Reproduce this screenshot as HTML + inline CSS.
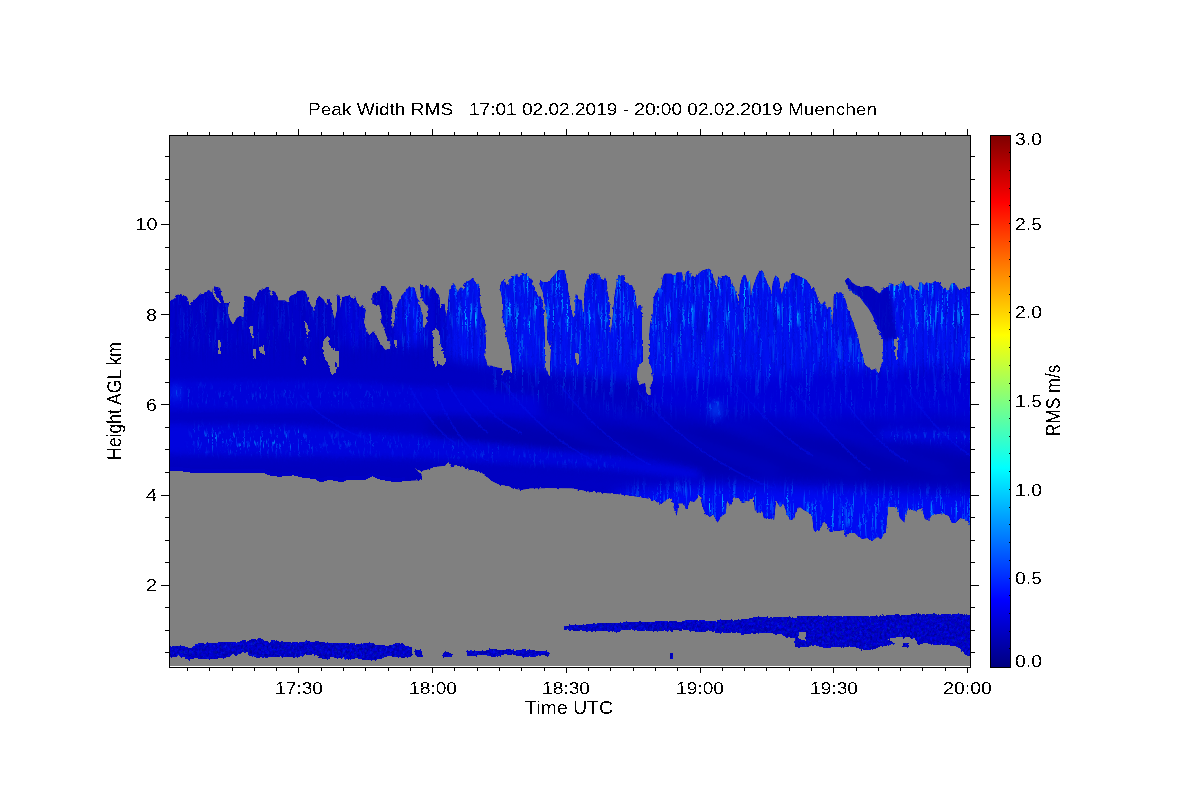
<!DOCTYPE html>
<html lang="en"><head><meta charset="utf-8"><title>Peak Width RMS</title>
<style>html,body{margin:0;padding:0;background:#fff;}body{width:1200px;height:800px;overflow:hidden;}svg{display:block;}text{font-family:"Liberation Sans",sans-serif;fill:#000;white-space:pre;}</style>
</head><body>
<svg width="1200" height="800" viewBox="0 0 1200 800">
<defs>
<linearGradient id="jet" x1="0" y1="1" x2="0" y2="0">
<stop offset="0.00000" stop-color="rgb(0,0,128)"/>
<stop offset="0.03125" stop-color="rgb(0,0,159)"/>
<stop offset="0.06250" stop-color="rgb(0,0,191)"/>
<stop offset="0.09375" stop-color="rgb(0,0,223)"/>
<stop offset="0.12500" stop-color="rgb(0,0,255)"/>
<stop offset="0.15625" stop-color="rgb(0,32,255)"/>
<stop offset="0.18750" stop-color="rgb(0,64,255)"/>
<stop offset="0.21875" stop-color="rgb(0,96,255)"/>
<stop offset="0.25000" stop-color="rgb(0,128,255)"/>
<stop offset="0.28125" stop-color="rgb(0,159,255)"/>
<stop offset="0.31250" stop-color="rgb(0,191,255)"/>
<stop offset="0.34375" stop-color="rgb(0,223,255)"/>
<stop offset="0.37500" stop-color="rgb(0,255,255)"/>
<stop offset="0.40625" stop-color="rgb(32,255,223)"/>
<stop offset="0.43750" stop-color="rgb(64,255,191)"/>
<stop offset="0.46875" stop-color="rgb(96,255,159)"/>
<stop offset="0.50000" stop-color="rgb(128,255,128)"/>
<stop offset="0.53125" stop-color="rgb(159,255,96)"/>
<stop offset="0.56250" stop-color="rgb(191,255,64)"/>
<stop offset="0.59375" stop-color="rgb(223,255,32)"/>
<stop offset="0.62500" stop-color="rgb(255,255,0)"/>
<stop offset="0.65625" stop-color="rgb(255,223,0)"/>
<stop offset="0.68750" stop-color="rgb(255,191,0)"/>
<stop offset="0.71875" stop-color="rgb(255,159,0)"/>
<stop offset="0.75000" stop-color="rgb(255,128,0)"/>
<stop offset="0.78125" stop-color="rgb(255,96,0)"/>
<stop offset="0.81250" stop-color="rgb(255,64,0)"/>
<stop offset="0.84375" stop-color="rgb(255,32,0)"/>
<stop offset="0.87500" stop-color="rgb(255,0,0)"/>
<stop offset="0.90625" stop-color="rgb(223,0,0)"/>
<stop offset="0.93750" stop-color="rgb(191,0,0)"/>
<stop offset="0.96875" stop-color="rgb(159,0,0)"/>
<stop offset="1.00000" stop-color="rgb(128,0,0)"/>
</linearGradient>
<filter id="alias" x="0" y="0" width="1200" height="800" filterUnits="userSpaceOnUse" color-interpolation-filters="sRGB"><feComponentTransfer><feFuncA type="discrete" tableValues="0 0 1 1"/></feComponentTransfer></filter>
<filter id="jag" x="165" y="240" width="810" height="430" filterUnits="userSpaceOnUse" color-interpolation-filters="sRGB"><feTurbulence type="fractalNoise" baseFrequency="0.45 0.3" numOctaves="1" seed="2" result="t"/><feDisplacementMap in="SourceGraphic" in2="t" scale="3.2" xChannelSelector="R" yChannelSelector="G"/></filter>
<filter id="stripeTex" x="160" y="600" width="820" height="70" filterUnits="userSpaceOnUse" color-interpolation-filters="sRGB"><feTurbulence type="fractalNoise" baseFrequency="0.4 0.35" numOctaves="2" seed="9" result="n"/><feColorMatrix in="n" type="matrix" values="0 0 0 0 0  0.4 0 0 0 -0.22  0 0.55 0 0 0.49  0 0 0 0 1" result="c"/><feComposite in="c" in2="SourceGraphic" operator="in"/></filter>
<clipPath id="plotclip"><rect x="170" y="136" width="800" height="530"/></clipPath>
<clipPath id="cloudclip"><polygon points="163,301.2 170,301.2 174.4,298.8 176.2,295 181.2,294.4 186.9,296.9 189.4,304.4 191.9,301.9 196.2,298.8 198.8,295.6 205,292.5 208.8,290 212.5,293.8 213.1,286.2 220,288.1 222.5,301.2 226.2,303.1 228.8,303.1 227.5,312.5 230,320 233.1,325 236.9,318.1 240,316.2 243.8,317.5 244.4,296.2 250,296.9 255,301.2 256.9,294.4 258.8,290.6 265,288.8 268.1,286.9 269.4,291.2 271.2,296.9 273.1,291.2 275,291.9 277.5,296.9 278.1,300.6 285,300.6 288.1,303.1 290,296.2 296.2,293.8 297.5,291.2 302.5,290.6 305,291.2 306.9,295 310,303.8 314.4,311.9 316.9,298.1 319.4,296.2 323.8,300 326.2,306.2 327.5,299.4 330.6,300 331.9,311.2 335,320 336.9,311.2 337.5,295.6 339.4,295.6 340.6,307.5 342.5,297.5 348.1,295.6 353.1,298.8 355,296.2 356.9,302.5 360,307.5 362.5,305 365.6,310 363.8,322.5 367.5,332.5 370,336.2 373.1,331.2 376.2,336.2 380,342.5 385,350 390,348.8 390.6,345.6 386.2,335 383.1,325 381.2,322.5 381.9,316.2 379.4,305 375,304.4 372.5,303.8 372.5,295 375,292.5 380,291.2 381.2,286.2 385,286.2 388.1,290.6 391.2,295 392.5,306.2 391.2,315 392.5,328.8 394.4,325 395.6,307.5 401.2,296.2 405,291.9 407.5,287.5 414.4,287.5 416.2,295 420,306.2 422.5,315 423.1,327.5 425.6,328.1 426.9,322.5 428.8,307.5 425,303.8 421.2,297.5 420,284.4 421.9,284.4 424.4,288.8 426.2,284.4 428.1,285.6 430,290.6 432.5,287.5 435,290 439.4,297.5 440,308.8 442.5,304.4 444.4,303.8 446.2,317.5 447.5,310 449.4,290 453.1,283.1 456.2,286.9 457.5,291.2 461.2,286.9 463.8,290 465,281.9 470,280.6 472.5,278.1 475,281.9 478.8,285 480,288.8 479.4,297.5 481.2,312.5 485,321.2 485.6,340 485.8,346.7 485,356.7 487.5,365.8 491.7,365.8 496.7,367.5 501.7,368.3 502.5,375.8 505,370 509.2,370 512.5,375 511.7,365 510,350 509.4,347.5 506.9,337.5 505,333.8 505.6,330 503.1,322.5 501.9,297.5 501.2,292.5 499.4,288.8 501.9,281.2 504.4,279.4 506.2,285 508.8,283.8 511.2,276.2 517.5,275.6 519.4,277.5 521.9,273.1 526.9,273.1 528.8,277.5 531.2,278.8 533.1,285 536.2,292.5 538.8,297.5 540.6,295.6 542.5,302.5 543.8,312.5 543.8,322.5 545,337.5 545,340 545,366.7 547.5,373.3 550,376.7 550.8,353.3 551.7,340 550,346.2 547.5,340 546.9,313.8 545,310 544.4,301.2 542.5,291.2 539.4,283.8 540.6,281.2 545,282.5 548.8,281.9 551.2,278.8 555,274.4 558.8,270 563.8,270 565.6,274.4 566.9,283.8 568.8,295 570,303.8 571.9,312.5 573.1,318.8 575,315 575,296.2 576.9,294.4 579.4,300 581.9,300.6 582.5,310 583.8,312.5 585,286.2 588.8,276.2 587.5,278.8 590.6,273.8 598.8,273.8 601.2,278.8 603.8,280.6 605,277.5 606.9,282.5 607.5,292.5 609.4,302.5 609.4,315 610.6,335 612.5,320 614.4,297.5 616.9,281.2 618.8,275.6 623.8,275.6 625.6,282.5 631.9,285 633.8,291.2 635.6,296.2 636.9,310 639.4,304.4 641.2,306.2 641.9,320 641.9,340 642.5,340 642.5,361.7 637.5,366.7 636.7,378.3 639.2,385 645,383.3 646.7,395 650.8,395 650.8,385 653.3,380 651.7,368.3 649.2,361.7 649.2,340 649.4,340 649.4,335 650,325 653.1,312.5 653.8,297.5 657.5,290 661.2,287.5 663.1,276.2 665,273.8 671.2,273.8 675,275.6 676.9,272.5 681.9,272.5 683.8,283.8 685,280 686.2,271.2 688.8,270.6 691.2,275 695,277.5 697.5,274.4 702.5,270.6 708.8,268.8 711.2,270.6 713.1,277.5 715.6,283.8 716.9,291.2 718.1,278.8 720.6,276.9 726.2,275.6 727.5,276.2 731.2,280.6 735,290 737.5,298.8 738.8,306.2 740,286.2 743.1,274.4 745.6,275.6 747.5,282.5 750,280 750.6,297.5 753.1,286.9 756.9,276.2 760,270.6 762.5,270.6 765,277.5 768.1,285 769.4,283.8 771.2,296.2 773.1,281.2 775.6,275.6 778.8,278.8 781.2,292.5 781.9,295 784.4,283.8 786.9,281.2 788.8,283.1 790.6,277.5 792.5,273.1 795,273.8 796.9,275.6 800,276.2 806.2,280 810.6,286.2 815.6,291.9 818.1,300 821.2,305 825,301.2 826.9,310 829.4,306.2 831.9,310 833.1,337.5 833.8,296.2 836.9,292.5 841.2,292.5 845,298.8 848.1,310 851.2,317.5 855,327.5 858.1,337.5 860.6,350 861.9,352.5 863.8,361.2 860.8,348.3 862.5,356.7 865,365 868.3,367.5 871.7,370 875,369.2 879.2,373.3 881.7,365 883.3,350 882.5,340 882.5,338.8 879.4,332.5 876.2,325 873.1,316.2 868.8,308.8 863.8,302.5 859.4,296.2 853.8,293.8 850,290 846.2,283.8 845,280.6 845,279.4 848.1,278.1 850,280 851.9,282.5 856.2,285.6 861.2,286.9 868.1,286.2 872.5,287.5 875.6,291.2 880,293.8 882.5,288.8 888.1,288.1 889.4,283.1 892.5,285 894.4,286.2 898.8,284.4 903.8,281.9 906.2,286.2 911.2,285.6 915,290 918.1,290 919.4,282.5 921.9,282.5 923.8,286.2 926.2,282.5 931.2,283.8 935,281.2 938.8,281.9 941.2,286.2 945,289.4 948.8,290.6 951.2,283.8 955,283.1 957.5,287.5 959.4,290.6 962.5,288.8 966.2,287.5 970,286.2 977,286.2 977,527 970,524 965,519 960,518 955,523 952,523 949,516 943,513 932,515 928,520 925,519 922,508 915,511 908,508 904,522 900,518 897,507 888,507 886,530 881,539 877,537 872,541 867,538 861,539 855,533 849,533 846,537 844,530 835,531 830,532 827,525 824,521 819,531 814,531 812,515 808,512 804,510 800,507 796,510 794,519 790,520 787,514 784,504 780,507 776,500 774,520 772,518 768,519 764,518 762,511 758,513 755,511 754,498 750,499 746,502 742,503 739,498 735,497 733.3,497.5 730,505 726.7,500 725.8,513.3 721.7,515.8 717.5,522.5 713.3,514.2 710,516.7 705.8,514.2 702.5,506.7 700,495 694.2,501.7 690,500.8 686.7,509.2 683.3,503.3 678.3,503.3 676.7,515.8 674.2,508.3 671.7,498.3 666.7,499.2 660.8,504.2 655,500.8 648.3,498.3 638.3,496.7 625,494.7 608.3,493.3 588.3,491.3 571.7,488.3 545,488 545,488.3 531.7,488.3 521.7,489.7 513.3,488.7 508.3,485.8 500,484.7 493.3,481.7 486.7,477.5 481.7,472.5 476.7,470.8 468.3,469.2 463.3,466.7 455,465 451.7,467.5 448.3,461.7 445,465.8 435,466.7 428.3,469.2 421.7,470.8 418.3,470 414.2,467.5 419.2,472.5 421.7,475.8 421.7,480 405,480.8 396.7,482.5 380,479.7 372.5,476.3 365,480 355,480.3 355,480 346.7,480.3 341.7,482.5 330,479.7 320.8,482.5 315,479.2 301.7,477.5 293.3,475.3 285,476.3 278.3,476.7 268.3,475.3 265,473.3 228.3,472.8 211.7,472.5 191.7,472.8 181.7,471.3 170,470.8 163,470.8"/></clipPath>
<linearGradient id="baseg" gradientUnits="userSpaceOnUse" x1="170" y1="0" x2="970" y2="0"><stop offset="0" stop-color="#0000c9"/><stop offset="0.35" stop-color="#0000c2"/><stop offset="0.6" stop-color="#0000c4"/><stop offset="1" stop-color="#0000c6"/></linearGradient>
<filter id="soft" x="100" y="200" width="950" height="420" filterUnits="userSpaceOnUse" color-interpolation-filters="sRGB"><feGaussianBlur stdDeviation="7 6"/></filter>
<filter id="soft3" x="800" y="250" width="150" height="120" filterUnits="userSpaceOnUse" color-interpolation-filters="sRGB"><feGaussianBlur stdDeviation="1.5"/></filter>
<filter id="soft2" x="100" y="200" width="950" height="420" filterUnits="userSpaceOnUse" color-interpolation-filters="sRGB"><feGaussianBlur stdDeviation="4 3"/></filter>
<filter id="streakB" x="165" y="240" width="810" height="320" filterUnits="userSpaceOnUse" color-interpolation-filters="sRGB">
<feTurbulence type="fractalNoise" baseFrequency="0.55 0.03" numOctaves="2" seed="11" result="n"/>
<feColorMatrix in="n" type="matrix" values="0 0 0 0 0  0 0.9 0 0 0.05  0 0 0 0 1  4.5 0 0 0 -2.45" result="s"/>
<feGaussianBlur in="SourceAlpha" stdDeviation="6 7" result="m"/>
<feComposite in="s" in2="m" operator="in"/>
</filter>
<filter id="speck" x="165" y="240" width="810" height="320" filterUnits="userSpaceOnUse" color-interpolation-filters="sRGB">
<feTurbulence type="fractalNoise" baseFrequency="0.5 0.1" numOctaves="2" seed="23" result="n"/>
<feColorMatrix in="n" type="matrix" values="0 0 0 0 0  0 1.0 0 0 0.0  0 0 0 0 1  4.5 0 0 0 -2.5" result="s"/>
<feGaussianBlur in="SourceAlpha" stdDeviation="6 4" result="m"/>
<feComposite in="s" in2="m" operator="in"/>
</filter>
<filter id="streakD" x="165" y="240" width="810" height="320" filterUnits="userSpaceOnUse" color-interpolation-filters="sRGB">
<feTurbulence type="fractalNoise" baseFrequency="0.45 0.02" numOctaves="2" seed="5" result="n"/>
<feColorMatrix in="n" type="matrix" values="0 0 0 0 0  0 0 0 0 0  0 0 0 0 0.72  0 2.5 0 0 -1.1" result="s"/>
<feGaussianBlur in="SourceAlpha" stdDeviation="4 5" result="m"/>
<feComposite in="s" in2="m" operator="in"/>
</filter>
</defs>
<g shape-rendering="crispEdges">
<rect x="170" y="136" width="800" height="530" fill="#808080"/>
<g clip-path="url(#plotclip)"><g filter="url(#jag)">
<polygon points="163,301.2 170,301.2 174.4,298.8 176.2,295 181.2,294.4 186.9,296.9 189.4,304.4 191.9,301.9 196.2,298.8 198.8,295.6 205,292.5 208.8,290 212.5,293.8 213.1,286.2 220,288.1 222.5,301.2 226.2,303.1 228.8,303.1 227.5,312.5 230,320 233.1,325 236.9,318.1 240,316.2 243.8,317.5 244.4,296.2 250,296.9 255,301.2 256.9,294.4 258.8,290.6 265,288.8 268.1,286.9 269.4,291.2 271.2,296.9 273.1,291.2 275,291.9 277.5,296.9 278.1,300.6 285,300.6 288.1,303.1 290,296.2 296.2,293.8 297.5,291.2 302.5,290.6 305,291.2 306.9,295 310,303.8 314.4,311.9 316.9,298.1 319.4,296.2 323.8,300 326.2,306.2 327.5,299.4 330.6,300 331.9,311.2 335,320 336.9,311.2 337.5,295.6 339.4,295.6 340.6,307.5 342.5,297.5 348.1,295.6 353.1,298.8 355,296.2 356.9,302.5 360,307.5 362.5,305 365.6,310 363.8,322.5 367.5,332.5 370,336.2 373.1,331.2 376.2,336.2 380,342.5 385,350 390,348.8 390.6,345.6 386.2,335 383.1,325 381.2,322.5 381.9,316.2 379.4,305 375,304.4 372.5,303.8 372.5,295 375,292.5 380,291.2 381.2,286.2 385,286.2 388.1,290.6 391.2,295 392.5,306.2 391.2,315 392.5,328.8 394.4,325 395.6,307.5 401.2,296.2 405,291.9 407.5,287.5 414.4,287.5 416.2,295 420,306.2 422.5,315 423.1,327.5 425.6,328.1 426.9,322.5 428.8,307.5 425,303.8 421.2,297.5 420,284.4 421.9,284.4 424.4,288.8 426.2,284.4 428.1,285.6 430,290.6 432.5,287.5 435,290 439.4,297.5 440,308.8 442.5,304.4 444.4,303.8 446.2,317.5 447.5,310 449.4,290 453.1,283.1 456.2,286.9 457.5,291.2 461.2,286.9 463.8,290 465,281.9 470,280.6 472.5,278.1 475,281.9 478.8,285 480,288.8 479.4,297.5 481.2,312.5 485,321.2 485.6,340 485.8,346.7 485,356.7 487.5,365.8 491.7,365.8 496.7,367.5 501.7,368.3 502.5,375.8 505,370 509.2,370 512.5,375 511.7,365 510,350 509.4,347.5 506.9,337.5 505,333.8 505.6,330 503.1,322.5 501.9,297.5 501.2,292.5 499.4,288.8 501.9,281.2 504.4,279.4 506.2,285 508.8,283.8 511.2,276.2 517.5,275.6 519.4,277.5 521.9,273.1 526.9,273.1 528.8,277.5 531.2,278.8 533.1,285 536.2,292.5 538.8,297.5 540.6,295.6 542.5,302.5 543.8,312.5 543.8,322.5 545,337.5 545,340 545,366.7 547.5,373.3 550,376.7 550.8,353.3 551.7,340 550,346.2 547.5,340 546.9,313.8 545,310 544.4,301.2 542.5,291.2 539.4,283.8 540.6,281.2 545,282.5 548.8,281.9 551.2,278.8 555,274.4 558.8,270 563.8,270 565.6,274.4 566.9,283.8 568.8,295 570,303.8 571.9,312.5 573.1,318.8 575,315 575,296.2 576.9,294.4 579.4,300 581.9,300.6 582.5,310 583.8,312.5 585,286.2 588.8,276.2 587.5,278.8 590.6,273.8 598.8,273.8 601.2,278.8 603.8,280.6 605,277.5 606.9,282.5 607.5,292.5 609.4,302.5 609.4,315 610.6,335 612.5,320 614.4,297.5 616.9,281.2 618.8,275.6 623.8,275.6 625.6,282.5 631.9,285 633.8,291.2 635.6,296.2 636.9,310 639.4,304.4 641.2,306.2 641.9,320 641.9,340 642.5,340 642.5,361.7 637.5,366.7 636.7,378.3 639.2,385 645,383.3 646.7,395 650.8,395 650.8,385 653.3,380 651.7,368.3 649.2,361.7 649.2,340 649.4,340 649.4,335 650,325 653.1,312.5 653.8,297.5 657.5,290 661.2,287.5 663.1,276.2 665,273.8 671.2,273.8 675,275.6 676.9,272.5 681.9,272.5 683.8,283.8 685,280 686.2,271.2 688.8,270.6 691.2,275 695,277.5 697.5,274.4 702.5,270.6 708.8,268.8 711.2,270.6 713.1,277.5 715.6,283.8 716.9,291.2 718.1,278.8 720.6,276.9 726.2,275.6 727.5,276.2 731.2,280.6 735,290 737.5,298.8 738.8,306.2 740,286.2 743.1,274.4 745.6,275.6 747.5,282.5 750,280 750.6,297.5 753.1,286.9 756.9,276.2 760,270.6 762.5,270.6 765,277.5 768.1,285 769.4,283.8 771.2,296.2 773.1,281.2 775.6,275.6 778.8,278.8 781.2,292.5 781.9,295 784.4,283.8 786.9,281.2 788.8,283.1 790.6,277.5 792.5,273.1 795,273.8 796.9,275.6 800,276.2 806.2,280 810.6,286.2 815.6,291.9 818.1,300 821.2,305 825,301.2 826.9,310 829.4,306.2 831.9,310 833.1,337.5 833.8,296.2 836.9,292.5 841.2,292.5 845,298.8 848.1,310 851.2,317.5 855,327.5 858.1,337.5 860.6,350 861.9,352.5 863.8,361.2 860.8,348.3 862.5,356.7 865,365 868.3,367.5 871.7,370 875,369.2 879.2,373.3 881.7,365 883.3,350 882.5,340 882.5,338.8 879.4,332.5 876.2,325 873.1,316.2 868.8,308.8 863.8,302.5 859.4,296.2 853.8,293.8 850,290 846.2,283.8 845,280.6 845,279.4 848.1,278.1 850,280 851.9,282.5 856.2,285.6 861.2,286.9 868.1,286.2 872.5,287.5 875.6,291.2 880,293.8 882.5,288.8 888.1,288.1 889.4,283.1 892.5,285 894.4,286.2 898.8,284.4 903.8,281.9 906.2,286.2 911.2,285.6 915,290 918.1,290 919.4,282.5 921.9,282.5 923.8,286.2 926.2,282.5 931.2,283.8 935,281.2 938.8,281.9 941.2,286.2 945,289.4 948.8,290.6 951.2,283.8 955,283.1 957.5,287.5 959.4,290.6 962.5,288.8 966.2,287.5 970,286.2 977,286.2 977,527 970,524 965,519 960,518 955,523 952,523 949,516 943,513 932,515 928,520 925,519 922,508 915,511 908,508 904,522 900,518 897,507 888,507 886,530 881,539 877,537 872,541 867,538 861,539 855,533 849,533 846,537 844,530 835,531 830,532 827,525 824,521 819,531 814,531 812,515 808,512 804,510 800,507 796,510 794,519 790,520 787,514 784,504 780,507 776,500 774,520 772,518 768,519 764,518 762,511 758,513 755,511 754,498 750,499 746,502 742,503 739,498 735,497 733.3,497.5 730,505 726.7,500 725.8,513.3 721.7,515.8 717.5,522.5 713.3,514.2 710,516.7 705.8,514.2 702.5,506.7 700,495 694.2,501.7 690,500.8 686.7,509.2 683.3,503.3 678.3,503.3 676.7,515.8 674.2,508.3 671.7,498.3 666.7,499.2 660.8,504.2 655,500.8 648.3,498.3 638.3,496.7 625,494.7 608.3,493.3 588.3,491.3 571.7,488.3 545,488 545,488.3 531.7,488.3 521.7,489.7 513.3,488.7 508.3,485.8 500,484.7 493.3,481.7 486.7,477.5 481.7,472.5 476.7,470.8 468.3,469.2 463.3,466.7 455,465 451.7,467.5 448.3,461.7 445,465.8 435,466.7 428.3,469.2 421.7,470.8 418.3,470 414.2,467.5 419.2,472.5 421.7,475.8 421.7,480 405,480.8 396.7,482.5 380,479.7 372.5,476.3 365,480 355,480.3 355,480 346.7,480.3 341.7,482.5 330,479.7 320.8,482.5 315,479.2 301.7,477.5 293.3,475.3 285,476.3 278.3,476.7 268.3,475.3 265,473.3 228.3,472.8 211.7,472.5 191.7,472.8 181.7,471.3 170,470.8 163,470.8" fill="#0000c8" id="cloud"/>
<g clip-path="url(#cloudclip)">
<rect x="160" y="250" width="820" height="300" fill="url(#baseg)"/>
<g filter="url(#soft)">
<polygon points="150,270 447,265 447,340 150,343" fill="#0000ca"/>
<polygon points="397,280 424,280 424,345 400,345" fill="#0010f4"/>
<polygon points="343,292 366,292 366,345 343,345" fill="#0004e0" opacity="0.8"/>
<polygon points="447,250 990,250 990,366 840,372 640,380 485,364 447,358" fill="#0010f0"/>
<polygon points="650,378 990,370 990,414 800,418 650,406" fill="#0000d8"/>
<polygon points="615,492 700,485 800,488 900,492 990,496 990,548 615,548" fill="#000af2"/>
<polygon points="430,418 560,428 700,426 850,440 990,456 990,484 850,481 700,476 560,466 470,452 430,440" fill="#0000b0"/>
<polygon points="150,413 300,414 430,420 430,425 300,421 150,420" fill="#0000bc" opacity="0.6"/>
<polygon points="150,458 300,461 420,466 420,485 150,480" fill="#0000bc" opacity="0.8"/>
<path d="M470,392 q60,22 110,42 t110,38" fill="none" stroke="#0004e0" stroke-width="7" opacity="0.45"/>
<path d="M560,392 q60,22 110,42 t110,38" fill="none" stroke="#0004e0" stroke-width="7" opacity="0.45"/>
<path d="M640,392 q60,22 110,42 t110,38" fill="none" stroke="#0004e0" stroke-width="7" opacity="0.45"/>
<path d="M730,392 q60,22 110,42 t110,38" fill="none" stroke="#0004e0" stroke-width="7" opacity="0.45"/>
<path d="M820,392 q60,22 110,42 t110,38" fill="none" stroke="#0004e0" stroke-width="7" opacity="0.45"/>
<path d="M900,392 q60,22 110,42 t110,38" fill="none" stroke="#0004e0" stroke-width="7" opacity="0.45"/>
</g>
<g filter="url(#soft2)">
<polygon points="150,380 330,380 450,388 540,396 540,416 450,414 330,411 150,410" fill="#0002dc" opacity="0.8"/>
<polygon points="150,424 300,426 420,436 520,446 620,456 700,470 700,480 620,471 520,464 420,458 300,456 150,453" fill="#0005e2" opacity="0.85"/>
<polygon points="880,429 985,431 985,442 880,440" fill="#0008e4" opacity="0.7"/>
<ellipse cx="716" cy="410" rx="5" ry="10" fill="#0060ff" opacity="0.6"/>
<ellipse cx="176" cy="393" rx="4" ry="9" fill="#0040ff" opacity="0.6"/>
</g>
<polygon filter="url(#streakD)" opacity="0.6" points="165,262 450,262 450,362 165,360" fill="#000"/>
<polygon filter="url(#streakD)" opacity="0.55" points="450,262 975,262 975,380 450,362" fill="#000"/>
<polygon filter="url(#streakB)" points="450,255 980,255 980,334 450,330" fill="#000"/>
<polygon filter="url(#streakB)" opacity="0.45" points="450,330 980,334 980,372 830,374 640,382 490,364 450,356" fill="#000"/>
<polygon filter="url(#streakB)" opacity="0.25" points="490,364 640,382 830,374 980,372 980,412 640,412 490,395" fill="#000"/>
<polygon filter="url(#streakB)" opacity="0.22" points="160,280 450,270 450,345 160,345" fill="#000"/>
<polygon filter="url(#streakB)" opacity="0.9" points="630,490 700,486 980,496 980,545 630,545" fill="#000"/>
<polygon filter="url(#speck)" opacity="0.8" points="195,428 310,432 310,452 195,450" fill="#000"/>
<polygon filter="url(#speck)" opacity="0.35" points="310,432 420,440 620,460 620,468 420,455 310,452" fill="#000"/>
<polygon filter="url(#speck)" opacity="0.25" points="165,384 420,388 420,405 165,405" fill="#000"/>
<polygon filter="url(#speck)" opacity="0.5" points="885,430 975,432 975,441 885,439" fill="#000"/>
<polygon filter="url(#speck)" opacity="0.9" points="711,400 721,400 721,421 711,421" fill="#000"/>
<polygon filter="url(#streakB)" opacity="0.9" points="400,284 422,284 422,345 402,345" fill="#000"/>
<polygon filter="url(#soft3)" points="843,276 856,284 868,284.5 880,292 889,286 892,301 894,320 897,338 884,341 880,332 873,316 864,302 854,294 845,285" fill="#0000bc" opacity="0.9"/>
<path d="M435,388 Q455,443 489,462" fill="none" stroke="#0010e8" stroke-width="1.6" opacity="0.5" shape-rendering="auto"/>
<path d="M410,388 Q432,428 455,443" fill="none" stroke="#0010e8" stroke-width="1.6" opacity="0.5" shape-rendering="auto"/>
<path d="M448,383 Q468,418 488,433" fill="none" stroke="#0010e8" stroke-width="1.6" opacity="0.5" shape-rendering="auto"/>
<path d="M472,390 Q497,423 522,433" fill="none" stroke="#0010e8" stroke-width="1.6" opacity="0.5" shape-rendering="auto"/>
<path d="M502,381 Q543,437 597,462" fill="none" stroke="#0010e8" stroke-width="1.6" opacity="0.5" shape-rendering="auto"/>
<path d="M560,385 Q600,438 650,465" fill="none" stroke="#0010e8" stroke-width="1.6" opacity="0.5" shape-rendering="auto"/>
<path d="M638,392 Q678,440 732,469 T773,483" fill="none" stroke="#0010e8" stroke-width="1.6" opacity="0.5" shape-rendering="auto"/>
<path d="M732,380 Q773,432 813,456" fill="none" stroke="#0010e8" stroke-width="1.6" opacity="0.5" shape-rendering="auto"/>
<path d="M790,385 Q830,438 870,470" fill="none" stroke="#0010e8" stroke-width="1.6" opacity="0.5" shape-rendering="auto"/>
<path d="M840,395 Q874,443 908,462" fill="none" stroke="#0010e8" stroke-width="1.6" opacity="0.5" shape-rendering="auto"/>
<path d="M905,385 Q935,433 970,455" fill="none" stroke="#0010e8" stroke-width="1.6" opacity="0.5" shape-rendering="auto"/>
<path d="M300,395 Q330,428 370,440" fill="none" stroke="#0010e8" stroke-width="1.6" opacity="0.5" shape-rendering="auto"/>
</g>
<polygon points="217.5,341.2 220.6,341.2 220.6,353.8 218.8,353.8" fill="#808080" />
<polygon points="248.8,326.9 252.5,325.6 253.1,340 251.2,335" fill="#808080" />
<polygon points="252.5,348.8 255.6,348.8 255.6,359.4 253.1,359.4" fill="#808080" />
<polygon points="258.8,347.5 263.8,345 265,355 260,352.5" fill="#808080" />
<polygon points="305,319.4 308.8,328.8 307.5,338.1 305.6,330" fill="#808080" />
<polygon points="302.5,357.5 305,355 306.9,360 305,366.2" fill="#808080" />
<polygon points="322.5,341.2 328.1,335 329.4,345 331.9,347.5 335,352.5 338.8,353.8 339.4,360 338.1,370 333.3,348.3 339.2,352.5 339.2,358.3 335,360 335.8,372.5 331.7,374.2 329.2,366.7 325.8,360 323.3,353.3 322.5,340 328.1,365 325.6,357.5 322.5,347.5" fill="#808080" />
<polygon points="432.5,332.5 435.6,328.1 439.4,332.5 440.6,345 443.8,355 445.6,362.5 445.8,355 445,363.3 440.8,365.8 437.5,360.8 435.8,368.3 433.3,360 432.5,353.3 432.5,340 432.5,360 432.5,345" fill="#808080" />
<polygon points="394.2,340 396.7,340 396.7,348.3 395,346.7" fill="#808080" />
<polygon points="575,353.3 579.2,353.3 578.3,366.7 575.8,361.7" fill="#808080" />
<polygon points="893.1,340 898.1,338.1 897.5,352.5 896.2,362.5 894.4,345" fill="#808080" />
<polygon points="213.5,290 215.2,292.5 217.8,297.2 220.8,302.2 220,304 217,300.8 214.5,297 212.8,294" fill="#808080" />
<g filter="url(#stripeTex)">
<polygon points="163,647.5 173.3,645.8 186.7,646.7 190,648.3 198.3,643.3 215,643.3 221.7,641.7 238.3,641.7 241.7,640 248.3,640.8 251.7,639.2 261.7,639.2 268.3,641.7 271.7,640 276.7,640.8 281.7,642.5 305,641.7 306.7,640 310,641.7 325,642.5 340,643.3 355,643.3 355,644.2 363.3,643.3 371.7,642.5 378.3,645 388.3,645.8 396.7,643.3 401.7,643 406.7,645.8 411.7,647.5 412.5,656.7 411.7,656.7 405,657.5 398.3,657.5 388.3,655.8 380,659.2 371.7,660 363.3,660 355,657.5 355,658.3 350,660 341.7,657.5 331.7,658.3 322.5,659.2 320,656.7 311.7,655 301.7,655.8 298.3,657.5 281.7,656.7 268.3,657.5 255.8,657.5 249.2,655.8 246.7,651.7 243.3,652.5 238.3,655 231.7,655 228.3,657.5 220,658.3 208.3,659.2 195,658.3 188.3,660 185,657.5 178.3,655.8 175,657.5 163,655.8" fill="#0000cc" />
<polygon points="415,649.2 421.7,650.8 423.3,657.5 418.3,658.3 415,655" fill="#0000cc" />
<polygon points="441.7,654.2 445.8,651.7 451.7,653.3 451.7,656.7 443.3,656.7" fill="#0000cc" />
<polygon points="466.7,651.7 471.7,650 481.7,651.7 491.7,649.2 505,650 508.3,648.3 515,650.8 523.3,649.2 530,650 538.3,650.8 545,650.8 549.2,652.5 549.2,655.8 543.3,655 535,656.7 523.3,656.7 513.3,655 505,654.2 495,657.5 485,655 471.7,655.8 466.7,655.8" fill="#0000cc" />
<polygon points="545,651.7 550,653.3 548.3,656.7 545,655.8" fill="#0000cc" />
<polygon points="670.3,653.3 673,653.3 673,658.7 670.3,658.7" fill="#0000cc" />
<polygon points="564.2,625.8 578.3,625 595,623.3 615,623.3 630,621.7 645,622.5 661.7,620.8 678.3,620.8 695,620 711.7,620.8 728.3,620 735,620 735,620 747,619 755,617 795,617 801,615.6 825,616.4 855,616.4 875,616 891,615 905,615 915,613.6 921,614.4 941,613.6 951,614 977,615 977,658 967,656 963,652 959,647 947,645 935,645 925,643 918,645 915,639 899,637 887,639 895,643 893,645 877,647 873,649.6 861,649.6 855,647 839,647 823,648 815,645 807,647 795,647 795,642 795,638 787,638 781,634 765,633 747,634 735,633 735,633.3 728.3,633.3 715,632.5 711.7,630.8 698.3,632.5 686.7,630 665,630.8 645,630.8 623.3,630 616.7,632.5 611.7,630.8 578.3,630.8 564.2,630" fill="#0000cc" />
<polygon points="903,643 909,643 909,647 903,647" fill="#0000cc" />
</g>
<polygon points="799,632 806,632 806,641 799,639" fill="#808080" />
</g>
<polygon points="163,466.8 170,466.8 181.7,467.3 191.7,468.8 211.7,468.5 228.3,468.8 265,469.3 268.3,471.3 278.3,472.7 285,472.3 293.3,471.3 301.7,473.5 315,475.2 320.8,478.5 330,475.7 341.7,478.5 346.7,476.3 355,476 355,476.3 365,476 372.5,472.3 380,475.7 396.7,478.5 405,476.8 405,480.8 396.7,482.5 380,479.7 372.5,476.3 365,480 355,480.3 355,480 346.7,480.3 341.7,482.5 330,479.7 320.8,482.5 315,479.2 301.7,477.5 293.3,475.3 285,476.3 278.3,476.7 268.3,475.3 265,473.3 228.3,472.8 211.7,472.5 191.7,472.8 181.7,471.3 170,470.8 163,470.8" fill="#0000c4" />
<polygon points="163,470.8 170,470.8 181.7,471.3 191.7,472.8 211.7,472.5 228.3,472.8 265,473.3 268.3,475.3 278.3,476.7 285,476.3 293.3,475.3 301.7,477.5 315,479.2 320.8,482.5 330,479.7 341.7,482.5 346.7,480.3 355,480 355,480.3 365,480 372.5,476.3 380,479.7 396.7,482.5 405,480.8 405,485.8 396.7,487.5 380,484.7 372.5,481.3 365,485 355,485.3 355,485 346.7,485.3 341.7,487.5 330,484.7 320.8,487.5 315,484.2 301.7,482.5 293.3,480.3 285,481.3 278.3,481.7 268.3,480.3 265,478.3 228.3,477.8 211.7,477.5 191.7,477.8 181.7,476.3 170,475.8 163,475.8" fill="#808080" />
</g>
<rect x="170" y="666" width="800" height="1" fill="#fff"/>
<rect x="169" y="135" width="802" height="1" fill="#000"/>
<rect x="169" y="667" width="802" height="1" fill="#000"/>
<rect x="169" y="135" width="1" height="533" fill="#000"/>
<rect x="970" y="135" width="1" height="533" fill="#000"/>
<rect x="187" y="132" width="1" height="3" fill="#000"/>
<rect x="187" y="668" width="1" height="3" fill="#000"/>
<rect x="209" y="132" width="1" height="3" fill="#000"/>
<rect x="209" y="668" width="1" height="3" fill="#000"/>
<rect x="232" y="132" width="1" height="3" fill="#000"/>
<rect x="232" y="668" width="1" height="3" fill="#000"/>
<rect x="254" y="132" width="1" height="3" fill="#000"/>
<rect x="254" y="668" width="1" height="3" fill="#000"/>
<rect x="276" y="132" width="1" height="3" fill="#000"/>
<rect x="276" y="668" width="1" height="3" fill="#000"/>
<rect x="298" y="129" width="1" height="6" fill="#000"/>
<rect x="298" y="668" width="1" height="5" fill="#000"/>
<rect x="321" y="132" width="1" height="3" fill="#000"/>
<rect x="321" y="668" width="1" height="3" fill="#000"/>
<rect x="343" y="132" width="1" height="3" fill="#000"/>
<rect x="343" y="668" width="1" height="3" fill="#000"/>
<rect x="365" y="132" width="1" height="3" fill="#000"/>
<rect x="365" y="668" width="1" height="3" fill="#000"/>
<rect x="388" y="132" width="1" height="3" fill="#000"/>
<rect x="388" y="668" width="1" height="3" fill="#000"/>
<rect x="410" y="132" width="1" height="3" fill="#000"/>
<rect x="410" y="668" width="1" height="3" fill="#000"/>
<rect x="432" y="129" width="1" height="6" fill="#000"/>
<rect x="432" y="668" width="1" height="5" fill="#000"/>
<rect x="454" y="132" width="1" height="3" fill="#000"/>
<rect x="454" y="668" width="1" height="3" fill="#000"/>
<rect x="477" y="132" width="1" height="3" fill="#000"/>
<rect x="477" y="668" width="1" height="3" fill="#000"/>
<rect x="499" y="132" width="1" height="3" fill="#000"/>
<rect x="499" y="668" width="1" height="3" fill="#000"/>
<rect x="521" y="132" width="1" height="3" fill="#000"/>
<rect x="521" y="668" width="1" height="3" fill="#000"/>
<rect x="544" y="132" width="1" height="3" fill="#000"/>
<rect x="544" y="668" width="1" height="3" fill="#000"/>
<rect x="566" y="129" width="1" height="6" fill="#000"/>
<rect x="566" y="668" width="1" height="5" fill="#000"/>
<rect x="588" y="132" width="1" height="3" fill="#000"/>
<rect x="588" y="668" width="1" height="3" fill="#000"/>
<rect x="610" y="132" width="1" height="3" fill="#000"/>
<rect x="610" y="668" width="1" height="3" fill="#000"/>
<rect x="633" y="132" width="1" height="3" fill="#000"/>
<rect x="633" y="668" width="1" height="3" fill="#000"/>
<rect x="655" y="132" width="1" height="3" fill="#000"/>
<rect x="655" y="668" width="1" height="3" fill="#000"/>
<rect x="677" y="132" width="1" height="3" fill="#000"/>
<rect x="677" y="668" width="1" height="3" fill="#000"/>
<rect x="700" y="129" width="1" height="6" fill="#000"/>
<rect x="700" y="668" width="1" height="5" fill="#000"/>
<rect x="722" y="132" width="1" height="3" fill="#000"/>
<rect x="722" y="668" width="1" height="3" fill="#000"/>
<rect x="744" y="132" width="1" height="3" fill="#000"/>
<rect x="744" y="668" width="1" height="3" fill="#000"/>
<rect x="766" y="132" width="1" height="3" fill="#000"/>
<rect x="766" y="668" width="1" height="3" fill="#000"/>
<rect x="789" y="132" width="1" height="3" fill="#000"/>
<rect x="789" y="668" width="1" height="3" fill="#000"/>
<rect x="811" y="132" width="1" height="3" fill="#000"/>
<rect x="811" y="668" width="1" height="3" fill="#000"/>
<rect x="833" y="129" width="1" height="6" fill="#000"/>
<rect x="833" y="668" width="1" height="5" fill="#000"/>
<rect x="856" y="132" width="1" height="3" fill="#000"/>
<rect x="856" y="668" width="1" height="3" fill="#000"/>
<rect x="878" y="132" width="1" height="3" fill="#000"/>
<rect x="878" y="668" width="1" height="3" fill="#000"/>
<rect x="900" y="132" width="1" height="3" fill="#000"/>
<rect x="900" y="668" width="1" height="3" fill="#000"/>
<rect x="922" y="132" width="1" height="3" fill="#000"/>
<rect x="922" y="668" width="1" height="3" fill="#000"/>
<rect x="945" y="132" width="1" height="3" fill="#000"/>
<rect x="945" y="668" width="1" height="3" fill="#000"/>
<rect x="967" y="129" width="1" height="6" fill="#000"/>
<rect x="967" y="668" width="1" height="5" fill="#000"/>
<rect x="165" y="652" width="4" height="1" fill="#000"/>
<rect x="971" y="652" width="4" height="1" fill="#000"/>
<rect x="165" y="630" width="4" height="1" fill="#000"/>
<rect x="971" y="630" width="4" height="1" fill="#000"/>
<rect x="165" y="607" width="4" height="1" fill="#000"/>
<rect x="971" y="607" width="4" height="1" fill="#000"/>
<rect x="161" y="585" width="8" height="1" fill="#000"/>
<rect x="971" y="585" width="8" height="1" fill="#000"/>
<rect x="165" y="562" width="4" height="1" fill="#000"/>
<rect x="971" y="562" width="4" height="1" fill="#000"/>
<rect x="165" y="540" width="4" height="1" fill="#000"/>
<rect x="971" y="540" width="4" height="1" fill="#000"/>
<rect x="165" y="517" width="4" height="1" fill="#000"/>
<rect x="971" y="517" width="4" height="1" fill="#000"/>
<rect x="161" y="495" width="8" height="1" fill="#000"/>
<rect x="971" y="495" width="8" height="1" fill="#000"/>
<rect x="165" y="472" width="4" height="1" fill="#000"/>
<rect x="971" y="472" width="4" height="1" fill="#000"/>
<rect x="165" y="449" width="4" height="1" fill="#000"/>
<rect x="971" y="449" width="4" height="1" fill="#000"/>
<rect x="165" y="427" width="4" height="1" fill="#000"/>
<rect x="971" y="427" width="4" height="1" fill="#000"/>
<rect x="161" y="404" width="8" height="1" fill="#000"/>
<rect x="971" y="404" width="8" height="1" fill="#000"/>
<rect x="165" y="382" width="4" height="1" fill="#000"/>
<rect x="971" y="382" width="4" height="1" fill="#000"/>
<rect x="165" y="359" width="4" height="1" fill="#000"/>
<rect x="971" y="359" width="4" height="1" fill="#000"/>
<rect x="165" y="337" width="4" height="1" fill="#000"/>
<rect x="971" y="337" width="4" height="1" fill="#000"/>
<rect x="161" y="314" width="8" height="1" fill="#000"/>
<rect x="971" y="314" width="8" height="1" fill="#000"/>
<rect x="165" y="292" width="4" height="1" fill="#000"/>
<rect x="971" y="292" width="4" height="1" fill="#000"/>
<rect x="165" y="269" width="4" height="1" fill="#000"/>
<rect x="971" y="269" width="4" height="1" fill="#000"/>
<rect x="165" y="247" width="4" height="1" fill="#000"/>
<rect x="971" y="247" width="4" height="1" fill="#000"/>
<rect x="161" y="224" width="8" height="1" fill="#000"/>
<rect x="971" y="224" width="8" height="1" fill="#000"/>
<rect x="165" y="201" width="4" height="1" fill="#000"/>
<rect x="971" y="201" width="4" height="1" fill="#000"/>
<rect x="165" y="179" width="4" height="1" fill="#000"/>
<rect x="971" y="179" width="4" height="1" fill="#000"/>
<rect x="165" y="156" width="4" height="1" fill="#000"/>
<rect x="971" y="156" width="4" height="1" fill="#000"/>
<rect x="991" y="136" width="19" height="531" fill="url(#jet)"/>
<rect x="990" y="135" width="21" height="1" fill="#000"/>
<rect x="990" y="667" width="21" height="1" fill="#000"/>
<rect x="990" y="135" width="1" height="533" fill="#000"/>
<rect x="1010" y="135" width="1" height="533" fill="#000"/>
<rect x="1009" y="648" width="1" height="1" fill="#000"/>
<rect x="1009" y="631" width="1" height="1" fill="#000"/>
<rect x="1009" y="613" width="1" height="1" fill="#000"/>
<rect x="1009" y="595" width="1" height="1" fill="#000"/>
<rect x="1009" y="578" width="1" height="1" fill="#000"/>
<rect x="1009" y="560" width="1" height="1" fill="#000"/>
<rect x="1009" y="542" width="1" height="1" fill="#000"/>
<rect x="1009" y="524" width="1" height="1" fill="#000"/>
<rect x="1009" y="507" width="1" height="1" fill="#000"/>
<rect x="1009" y="489" width="1" height="1" fill="#000"/>
<rect x="1009" y="471" width="1" height="1" fill="#000"/>
<rect x="1009" y="453" width="1" height="1" fill="#000"/>
<rect x="1009" y="436" width="1" height="1" fill="#000"/>
<rect x="1009" y="418" width="1" height="1" fill="#000"/>
<rect x="1009" y="400" width="1" height="1" fill="#000"/>
<rect x="1009" y="383" width="1" height="1" fill="#000"/>
<rect x="1009" y="365" width="1" height="1" fill="#000"/>
<rect x="1009" y="347" width="1" height="1" fill="#000"/>
<rect x="1009" y="329" width="1" height="1" fill="#000"/>
<rect x="1009" y="312" width="1" height="1" fill="#000"/>
<rect x="1009" y="294" width="1" height="1" fill="#000"/>
<rect x="1009" y="276" width="1" height="1" fill="#000"/>
<rect x="1009" y="259" width="1" height="1" fill="#000"/>
<rect x="1009" y="241" width="1" height="1" fill="#000"/>
<rect x="1009" y="223" width="1" height="1" fill="#000"/>
<rect x="1009" y="205" width="1" height="1" fill="#000"/>
<rect x="1009" y="188" width="1" height="1" fill="#000"/>
<rect x="1009" y="170" width="1" height="1" fill="#000"/>
<rect x="1009" y="152" width="1" height="1" fill="#000"/>
</g>
<g filter="url(#alias)">
<text x="308" y="115" font-size="17.4" text-anchor="start" textLength="569" lengthAdjust="spacingAndGlyphs" xml:space="preserve">Peak Width RMS   17:01 02.02.2019 - 20:00 02.02.2019 Muenchen</text>
<text x="135.5" y="230" font-size="17.4" text-anchor="start" textLength="22" lengthAdjust="spacingAndGlyphs" xml:space="preserve">10</text>
<text x="146" y="321" font-size="17.4" text-anchor="start" textLength="11" lengthAdjust="spacingAndGlyphs" xml:space="preserve">8</text>
<text x="146" y="411" font-size="17.4" text-anchor="start" textLength="11" lengthAdjust="spacingAndGlyphs" xml:space="preserve">6</text>
<text x="146" y="501" font-size="17.4" text-anchor="start" textLength="11" lengthAdjust="spacingAndGlyphs" xml:space="preserve">4</text>
<text x="146" y="591" font-size="17.4" text-anchor="start" textLength="11" lengthAdjust="spacingAndGlyphs" xml:space="preserve">2</text>
<text x="275" y="694" font-size="17.4" text-anchor="start" textLength="48" lengthAdjust="spacingAndGlyphs" xml:space="preserve">17:30</text>
<text x="409" y="694" font-size="17.4" text-anchor="start" textLength="48" lengthAdjust="spacingAndGlyphs" xml:space="preserve">18:00</text>
<text x="542" y="694" font-size="17.4" text-anchor="start" textLength="48" lengthAdjust="spacingAndGlyphs" xml:space="preserve">18:30</text>
<text x="676" y="694" font-size="17.4" text-anchor="start" textLength="48" lengthAdjust="spacingAndGlyphs" xml:space="preserve">19:00</text>
<text x="810" y="694" font-size="17.4" text-anchor="start" textLength="48" lengthAdjust="spacingAndGlyphs" xml:space="preserve">19:30</text>
<text x="943" y="694" font-size="17.4" text-anchor="start" textLength="49" lengthAdjust="spacingAndGlyphs" xml:space="preserve">20:00</text>
<text x="525" y="714" font-size="18.5" text-anchor="start" textLength="88" lengthAdjust="spacingAndGlyphs" xml:space="preserve">Time UTC</text>
<text x="1015" y="145" font-size="17.4" text-anchor="start" textLength="27" lengthAdjust="spacingAndGlyphs" xml:space="preserve">3.0</text>
<text x="1015" y="230" font-size="17.4" text-anchor="start" textLength="27" lengthAdjust="spacingAndGlyphs" xml:space="preserve">2.5</text>
<text x="1015" y="318" font-size="17.4" text-anchor="start" textLength="27" lengthAdjust="spacingAndGlyphs" xml:space="preserve">2.0</text>
<text x="1015" y="407" font-size="17.4" text-anchor="start" textLength="27" lengthAdjust="spacingAndGlyphs" xml:space="preserve">1.5</text>
<text x="1015" y="496" font-size="17.4" text-anchor="start" textLength="27" lengthAdjust="spacingAndGlyphs" xml:space="preserve">1.0</text>
<text x="1015" y="584" font-size="17.4" text-anchor="start" textLength="27" lengthAdjust="spacingAndGlyphs" xml:space="preserve">0.5</text>
<text x="1015" y="667" font-size="17.4" text-anchor="start" textLength="27" lengthAdjust="spacingAndGlyphs" xml:space="preserve">0.0</text>
<text transform="translate(121.3,460) rotate(-90)" font-size="21" text-anchor="start" textLength="118" lengthAdjust="spacingAndGlyphs" xml:space="preserve">Height AGL km</text>
<text transform="translate(1060,436.5) rotate(-90)" font-size="20" text-anchor="start" textLength="72" lengthAdjust="spacingAndGlyphs" xml:space="preserve">RMS m/s</text>
</g>
</svg>
</body></html>
